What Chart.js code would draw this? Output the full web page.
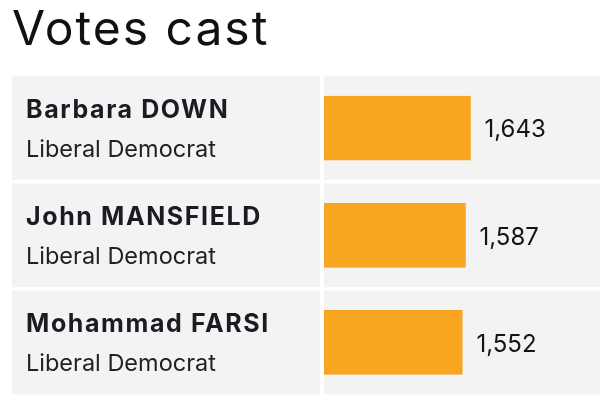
<!DOCTYPE html>
<html>
<head>
<meta charset="utf-8">
<script src="https://cdn.jsdelivr.net/npm/chart.js@4"></script>
<style>
  html, body { margin: 0; padding: 0; background: #fff; }
  #wrap { width: 600px; height: 400px; }
</style>
</head>
<body>
<div id="wrap"><canvas id="votesChart" width="600" height="400"></canvas></div>
<script>
const candidates = ['Barbara DOWN', 'John MANSFIELD', 'Mohammad FARSI'];
const parties = ['Liberal Democrat', 'Liberal Democrat', 'Liberal Democrat'];
const votes = [1643, 1587, 1552];

const FONT = 'Inter, Lato, "Noto Sans", sans-serif';

// grey row cells + name / party text + vote numbers
const rowsPlugin = {
  id: 'rows',
  beforeDraw(chart) {
    // the reference font is wide, so space the title out a bit
    chart.ctx.letterSpacing = '2px';
  },
  beforeDatasetsDraw(chart) {
    const ctx = chart.ctx;
    const y = chart.scales.y;
    const area = chart.chartArea;
    const band = (y.bottom - y.top) / candidates.length;
    ctx.letterSpacing = '0px';
    ctx.save();
    candidates.forEach((name, i) => {
      const cy = y.getPixelForValue(i);
      const top = cy - band / 2 + 1.75;
      const h = band - 3.5;
      ctx.fillStyle = '#f3f3f3';
      ctx.fillRect(y.left, top, area.left - 4 - y.left, h);
      ctx.fillRect(area.left, top, chart.width - area.left, h);

      ctx.textAlign = 'left';
      ctx.textBaseline = 'alphabetic';
      ctx.fillStyle = '#1b1b24';
      ctx.font = 'bold 25px ' + FONT;
      ctx.letterSpacing = '1.6px';
      ctx.fillText(name, y.left + 14, cy - 10);
      ctx.fillStyle = '#1f1f24';
      ctx.font = '23.5px ' + FONT;
      ctx.letterSpacing = '0px';
      ctx.fillText(parties[i], y.left + 14, cy + 29);
    });
    ctx.restore();
  },
  afterDatasetsDraw(chart) {
    const ctx = chart.ctx;
    const meta = chart.getDatasetMeta(0);
    ctx.save();
    ctx.fillStyle = '#141414';
    ctx.font = '24px ' + FONT;
    ctx.textAlign = 'left';
    ctx.textBaseline = 'middle';
    meta.data.forEach((bar, i) => {
      ctx.fillText(votes[i].toLocaleString('en-GB'), bar.x + 14, bar.y + 2);
    });
    ctx.restore();
  }
};

new Chart(document.getElementById('votesChart'), {
  type: 'bar',
  data: {
    labels: candidates,
    datasets: [{
      label: 'Votes cast',
      data: votes,
      backgroundColor: '#f8a61f',
      borderColor: '#f0a01c',
      borderWidth: 1,
      barThickness: 64,
      borderSkipped: false
    }]
  },
  options: {
    indexAxis: 'y',
    responsive: false,
    animation: false,
    layout: { padding: { left: 12, right: 0, top: 0, bottom: 4 } },
    plugins: {
      legend: { display: false },
      tooltip: { enabled: false },
      title: {
        display: true,
        text: 'Votes cast',
        align: 'start',
        color: '#111',
        font: { family: FONT, size: 48, weight: 'normal', lineHeight: 1.2 },
        padding: { top: 2, bottom: 15 }
      }
    },
    scales: {
      x: {
        display: false,
        min: 0,
        max: 3095
      },
      y: {
        display: true,
        grid: { display: false },
        border: { display: false },
        ticks: { display: false },
        afterFit(scale) { scale.width = 312; }
      }
    }
  },
  plugins: [rowsPlugin]
});
</script>
</body>
</html>
